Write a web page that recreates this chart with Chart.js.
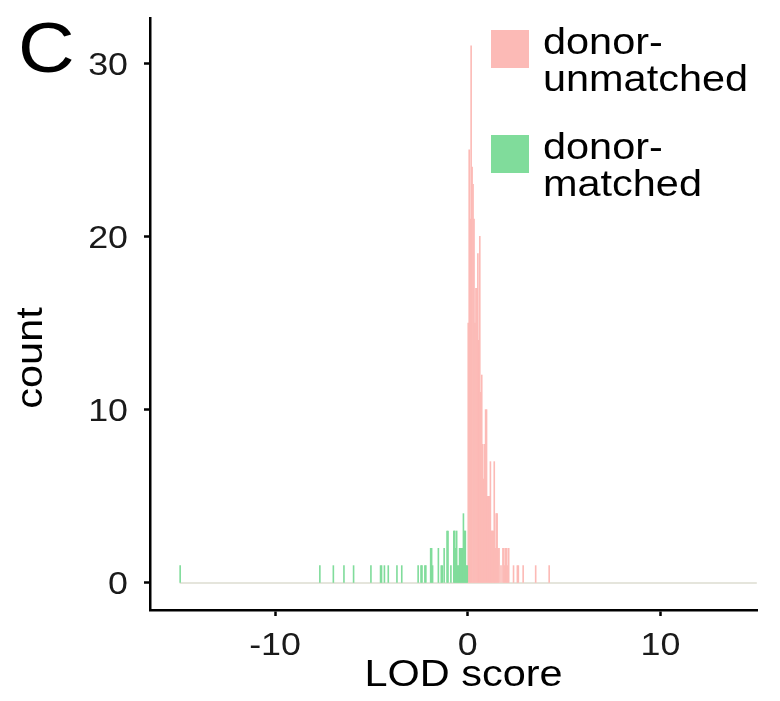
<!DOCTYPE html>
<html>
<head>
<meta charset="utf-8">
<script src="https://cdn.jsdelivr.net/npm/chart.js@4.4.1/dist/chart.umd.min.js"></script>
<style>
  html, body { margin: 0; padding: 0; background: #fff; }
</style>
</head>
<body>
<canvas id="grafica" width="780" height="701"></canvas>
<script>
// histogram bins (bin centre, width 0.05)
const unmatchedLod = [0.025, 0.075, 0.125, 0.175, 0.225, 0.275, 0.325, 0.375, 0.425, 0.475,
  0.525, 0.575, 0.625, 0.675, 0.725, 0.775, 0.825, 0.875, 0.925, 0.975,
  1.025, 1.075, 1.125, 1.175, 1.225, 1.275, 1.325, 1.375, 1.425, 1.475,
  1.525, 1.575, 1.625, 1.725, 1.825, 1.875, 1.925, 1.975, 2.025, 2.075,
  2.125, 2.375, 2.575, 2.625, 2.875, 3.525, 4.225];
const unmatchedCount = [15, 25, 21, 31, 24, 23, 21, 15, 17, 17,
  19, 14, 20, 11, 12, 8, 6, 8, 10, 10,
  5, 5, 5, 7, 3, 3, 3, 7, 2, 4,
  4, 2, 2, 1, 2, 2, 1, 2, 2, 1,
  2, 1, 1, 1, 1, 1, 1];

const matchedLod = [-0.025, -0.075, -0.125, -0.175, -0.225, -0.275, -0.325, -0.375, -0.425, -0.475,
  -0.525, -0.575, -0.625, -0.675, -0.725, -0.875, -1.025, -1.075, -1.225, -1.325,
  -1.375, -1.525, -1.825, -1.875, -1.925, -2.175, -2.225, -2.375, -2.425, -2.575,
  -3.425, -3.675, -4.125, -4.325, -4.475, -4.525, -5.025, -5.925, -6.425, -6.975,
  -7.675, -14.925];
const matchedCount = [1, 1, 3, 3, 4, 2, 2, 2, 2, 1,
  1, 3, 2, 3, 3, 1, 3, 3, 2, 1,
  1, 2, 1, 2, 2, 1, 1, 1, 1, 1,
  1, 1, 1, 1, 1, 1, 1, 1, 1, 1,
  1, 1];

const histRange = [-14.95, 15.0];
const xTicks = [-10, 0, 10];
const yTicks = [0, 10, 20, 30];
const legendLabels = [["donor-", "unmatched"], ["donor-", "matched"]];
const colores = ["#FCBAB6", "#80DC9B"];

const fuente = "'Liberation Sans', Arial, sans-serif";
const ancho = 1.12; // the figure's text is drawn a little wide
const $grafica = document.querySelector("#grafica");

function texto(ctx, t, x, y, size, align, rot) {
  ctx.save();
  ctx.translate(x, y);
  if (rot) ctx.rotate(rot);
  ctx.scale(ancho, 1);
  ctx.font = size + "px " + fuente;
  ctx.textAlign = align;
  ctx.textBaseline = "alphabetic";
  ctx.fillText(t, 0, 0);
  ctx.restore();
}

const textos = {
  id: "textos",
  afterDraw(chart) {
    const ctx = chart.ctx;
    const { x, y } = chart.scales;
    const area = chart.chartArea;
    ctx.save();
    ctx.fillStyle = "#1a1a1a";
    xTicks.forEach((v) => texto(ctx, String(v), x.getPixelForValue(v), 655, 32, "center"));
    yTicks.forEach((v) => texto(ctx, String(v), 128, y.getPixelForValue(v) + 11.5, 32, "right"));
    ctx.fillStyle = "#000";
    texto(ctx, "LOD score", (area.left + area.right) / 2 + 10, 686, 37, "center");
    texto(ctx, "count", 42, 358, 37, "center", -Math.PI / 2);
    texto(ctx, "C", 18, 72, 70, "left");
    // legend
    legendLabels.forEach((lineas, i) => {
      const y0 = 30 + i * 105;
      ctx.fillStyle = colores[i];
      ctx.fillRect(491, y0, 38, 38);
      ctx.fillStyle = "#000";
      lineas.forEach((t, j) => texto(ctx, t, 543, y0 + 24 + j * 37, 37, "left"));
    });
    ctx.restore();
  },
};

const barra = {
  grouped: false,
  barPercentage: 1,
  categoryPercentage: 1,
  borderWidth: 0,
};

const sinRelleno = (s) => { s.paddingTop = 0; s.paddingBottom = 0; s.paddingLeft = 0; s.paddingRight = 0; };

new Chart($grafica, {
  type: "bar",
  data: {
    datasets: [
      {
        type: "line",
        label: "zero bins",
        data: histRange.map((x) => ({ x, y: 0 })),
        borderColor: "#dcdcd0",
        borderWidth: 1.5,
        pointRadius: 0,
        order: 3,
      },
      {
        label: legendLabels[0].join(""),
        data: unmatchedLod.map((x, i) => ({ x, y: unmatchedCount[i] })),
        backgroundColor: colores[0],
        order: 2,
        ...barra,
      },
      {
        label: legendLabels[1].join(""),
        data: matchedLod.map((x, i) => ({ x, y: matchedCount[i] })),
        backgroundColor: colores[1],
        order: 1,
        ...barra,
      },
    ],
  },
  options: {
    responsive: false,
    animation: false,
    layout: { padding: { top: 18, right: 23, left: 0, bottom: 0 } },
    plugins: { legend: { display: false }, tooltip: { enabled: false } },
    scales: {
      x: {
        type: "linear",
        offset: false,
        min: -16.49,
        max: 15.01,
        afterBuildTicks: (s) => { s.ticks = xTicks.map((v) => ({ value: v })); },
        afterFit: (s) => { s.height = 91; sinRelleno(s); },
        grid: { offset: false, drawOnChartArea: false, color: "#000", tickLength: 6, tickWidth: 2.5 },
        border: { color: "#000", width: 2.5 },
        ticks: { display: false },
      },
      y: {
        min: -1.56,
        max: 32.6,
        afterBuildTicks: (s) => { s.ticks = yTicks.map((v) => ({ value: v })); },
        afterFit: (s) => { s.width = 150; sinRelleno(s); },
        grid: { drawOnChartArea: false, color: "#000", tickLength: 6, tickWidth: 2.5 },
        border: { color: "#000", width: 2.5 },
        ticks: { display: false },
      },
    },
  },
  plugins: [textos],
});
</script>
</body>
</html>
